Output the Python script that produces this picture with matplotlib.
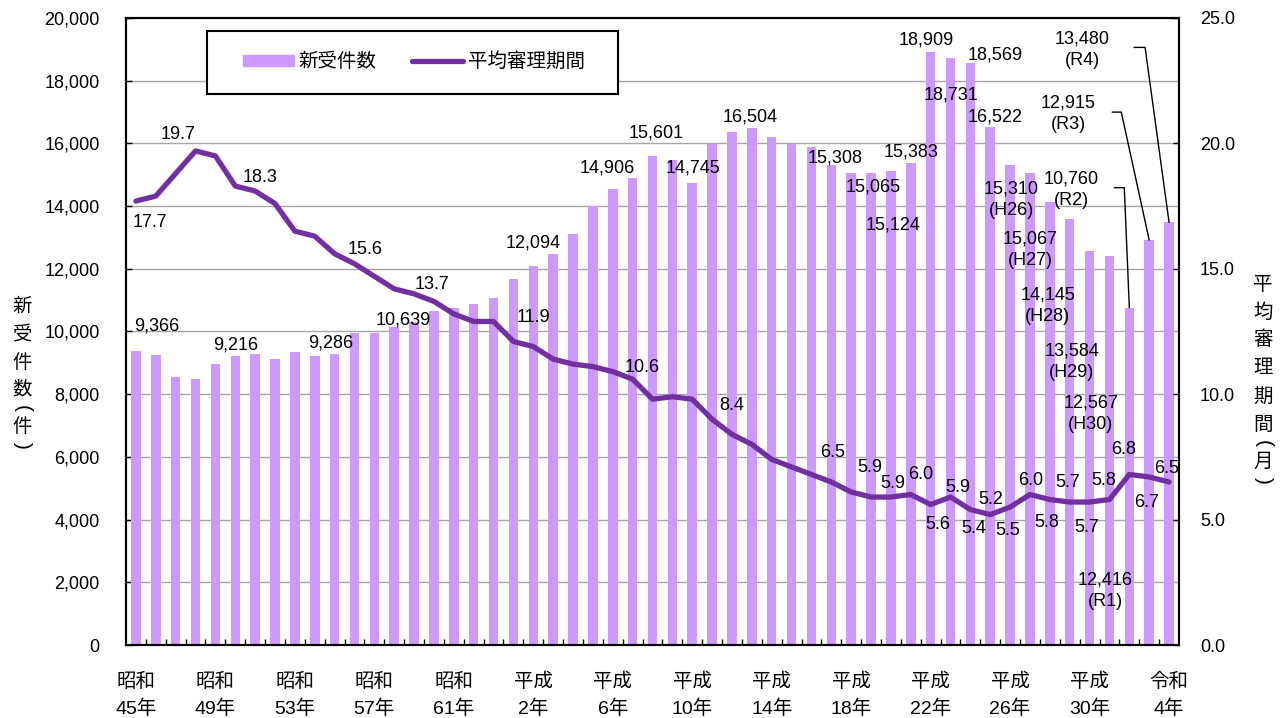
import numpy as np
import matplotlib
matplotlib.use("Agg")
import matplotlib.pyplot as plt
from matplotlib.patches import Rectangle
from matplotlib.lines import Line2D

plt.rcParams['font.family'] = ['Liberation Sans', 'Noto Sans CJK JP', 'DejaVu Sans']

# ---- data -------------------------------------------------------------
years = list(range(1970, 2023))          # 昭和45年 … 令和4年

tick_positions = list(range(0, 53, 4))
tick_labels = ["昭和\n45年", "昭和\n49年", "昭和\n53年", "昭和\n57年", "昭和\n61年",
               "平成\n2年", "平成\n6年", "平成\n10年", "平成\n14年", "平成\n18年",
               "平成\n22年", "平成\n26年", "平成\n30年", "令和\n4年"]

new_cases = [9366, 9240, 8540, 8475, 8954, 9216, 9282, 9113, 9346, 9228,
             9286, 9950, 9950, 10150, 10300, 10639, 10750, 10870, 11078, 11664,
             12094, 12462, 13100, 14013, 14545, 14906, 15601, 15470, 14745, 15981,
             16374, 16504, 16215, 15990, 15875, 15308, 15045, 15065, 15124, 15383,
             18909, 18731, 18569, 16522, 15310, 15067, 14145, 13584, 12567, 12416,
             10760, 12915, 13480]

avg_months = [17.7, 17.9, 18.8, 19.7, 19.5, 18.3, 18.1, 17.6, 16.5, 16.3,
              15.6, 15.2, 14.7, 14.2, 14.0, 13.7, 13.2, 12.9, 12.9, 12.1,
              11.9, 11.4, 11.2, 11.1, 10.9, 10.6, 9.8, 9.9, 9.8, 9.0,
              8.4, 8.0, 7.4, 7.1, 6.8, 6.5, 6.1, 5.9, 5.9, 6.0,
              5.6, 5.9, 5.4, 5.2, 5.5, 6.0, 5.8, 5.7, 5.7, 5.8,
              6.8, 6.7, 6.5]

# era tags shown under the most recent counts
era_tags = {44: "H26", 45: "H27", 46: "H28", 47: "H29", 48: "H30",
            49: "R1", 50: "R2", 51: "R3", 52: "R4"}

# ---- label placement (pixel offsets from the mark) --------------------
bar_label_offsets = {
    0: (21, 25), 5: (0, 11), 10: (-4, 11), 15: (-31, -9), 20: (0, 23),
    25: (-25, 10), 26: (4, 23), 28: (1, 15), 31: (-2, 11), 35: (4, 7),
    37: (2, -14), 38: (2, -54), 39: (0, 11), 40: (-4, 12), 41: (0, -37),
    42: (25, 8), 43: (5, 10), 44: (1, -35), 45: (0, -77), 46: (-2, -104),
    47: (2, -143), 48: (1, -163), 49: (-4, -335), 50: (-58, 118),
    51: (-81, 126), 52: (-87, 173),
}
line_label_offsets = {
    0: (14, -21), 3: (-17, 16), 5: (25, 9), 10: (31, 4), 15: (-2, 17),
    20: (0, 29), 25: (10, 12), 30: (0, 29), 35: (1, 29), 37: (-1, 30),
    38: (2, 14), 39: (10, 20), 40: (7, -20), 41: (7, 10), 42: (3, -19),
    43: (0, 15), 44: (-2, -23), 45: (1, 14), 46: (-3, -23), 47: (-2, 20),
    48: (-3, -25), 49: (-6, 19), 50: (-6, 25), 51: (-3, -26), 52: (-2, 13),
}
# leader lines: (start offset from bar top, slope angle of the diagonal)
leaders = {50: ((-15, 120), 92.4), 51: ((-37, 128), 102.3), 52: ((-35, 175), 97.8)}

BAR_COLOR = '#CC99FF'
LINE_COLOR = '#7030A0'
GRID_COLOR = '#A6A6A6'

W, H = 1287, 718
fig = plt.figure(figsize=(W / 100, H / 100), dpi=100)
L, R, T, B = 126, 1179, 18, 645
ax = fig.add_axes([L / W, 1 - B / H, (R - L) / W, (B - T) / H])

x = np.arange(len(years))
ax.bar(x, new_cases, width=0.48, color=BAR_COLOR, zorder=2)
ax.set_xlim(-0.5, len(years) - 0.5)
ax.set_ylim(0, 20000)
ax.set_yticks(range(0, 20001, 2000))
ax.set_yticklabels([f"{v:,}" for v in range(0, 20001, 2000)])
ax.set_axisbelow(True)
ax.yaxis.grid(True, color=GRID_COLOR, lw=1.0)

ax.set_xticks(tick_positions)
ax.set_xticklabels(tick_labels, fontsize=14, linespacing=1.6)
ax.set_xticks(np.arange(0.5, len(years) - 1, 1), minor=True)
ax.tick_params(axis='x', which='major', length=0, pad=20)
ax.tick_params(axis='x', which='minor', direction='in', length=4, width=1, color='black')
ax.tick_params(axis='y', direction='in', length=4, width=1, pad=19, labelsize=13)

ax2 = ax.twinx()
ax2.plot(x, avg_months, color=LINE_COLOR, lw=3.8, zorder=3, solid_capstyle='round')
ax2.set_ylim(0, 25)
ax2.set_yticks(np.arange(0, 25.1, 5))
ax2.set_yticklabels([f"{v:.1f}" for v in np.arange(0, 25.1, 5)])
ax2.tick_params(axis='y', direction='in', length=4, width=1, pad=15, labelsize=13)

for a in (ax, ax2):
    for s in a.spines.values():
        s.set_color('black')
        s.set_linewidth(1.5)

# value labels on bars
for i, (dx, dy) in bar_label_offsets.items():
    txt = f"{new_cases[i]:,}"
    if i in era_tags:
        txt += f"\n({era_tags[i]})"
    ax2.annotate(txt, xy=(i, new_cases[i]), xycoords=ax.transData,
                 xytext=(dx, dy), textcoords='offset pixels',
                 ha='center', va='center', fontsize=13, linespacing=1.35, zorder=6)

# leader lines for the latest years
for i, ((sx, sy), ang) in leaders.items():
    ax2.annotate('', xy=(i, new_cases[i]), xycoords=ax.transData,
                 xytext=(sx, sy), textcoords='offset pixels',
                 arrowprops=dict(arrowstyle='-', color='black', lw=1.0,
                                 shrinkA=0, shrinkB=0,
                                 connectionstyle=f"angle,angleA=0,angleB={ang},rad=0"),
                 zorder=6)

# value labels on the line
for i, (dx, dy) in line_label_offsets.items():
    ax2.annotate(f"{avg_months[i]:.1f}", xy=(i, avg_months[i]),
                 xytext=(dx, dy), textcoords='offset pixels',
                 ha='center', va='center', fontsize=13, zorder=6)

# legend with a square white frame
frame = Rectangle(((207 - L) / (R - L), (B - 94) / (B - T)),
                  (618 - 207) / (R - L), (94 - 31) / (B - T),
                  transform=ax2.transAxes, facecolor='white', edgecolor='black',
                  lw=1.5, zorder=7)
ax2.add_patch(frame)
handles = [Rectangle((0, 0), 1, 1, color=BAR_COLOR),
           Line2D([], [], color=LINE_COLOR, lw=3.8, solid_capstyle='round')]
leg = ax2.legend(handles, ["新受件数", "平均審理期間"], ncol=2, frameon=False,
                 loc='center left', bbox_to_anchor=((243 - L) / (R - L), (B - 62) / (B - T)),
                 borderpad=0, borderaxespad=0, handlelength=2.6, handleheight=0.55,
                 handletextpad=0.25, columnspacing=1.85, fontsize=14)
leg.set_zorder(8)

# stacked (vertical) axis titles; brackets are turned a quarter so they read vertically
def stacked(chars, xc, ys):
    for ch, yc in zip(chars, ys):
        rot = -90 if ch in "()" else 0
        fig.text(xc / W, 1 - yc / H, ch, ha='center', va='center',
                 fontsize=15 if rot else 14, rotation=rot)

stacked("新受件数(件)", 22, [307, 335, 363, 390, 409, 427, 445])
stacked("平均審理期間(月)", 1263, [285, 313, 340, 368, 397, 425, 444, 462, 480])

fig.savefig("out.png", dpi=100)
